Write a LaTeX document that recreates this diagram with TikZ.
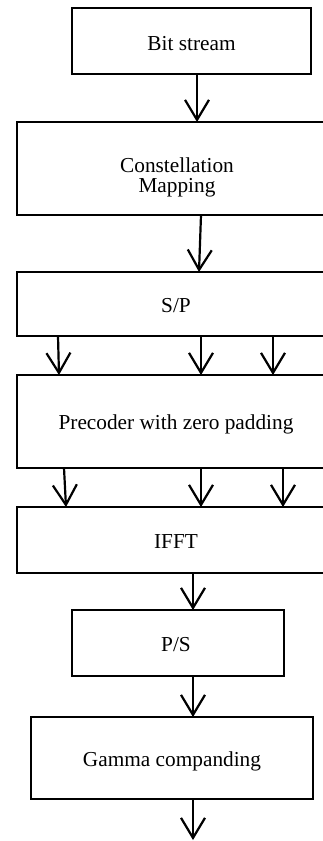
\documentclass[tikz,border=0pt]{standalone}
\usepackage{fontspec}
\setmainfont{Liberation Serif}
\usetikzlibrary{arrows.meta}
\tikzset{
  box/.style={draw=black, line width=1.2pt, inner sep=0pt, outer sep=0pt},
  lbl/.style={font=\fontsize{21.3}{20}\selectfont, inner sep=0pt, anchor=base, align=center},
  arr/.style={line width=2.2pt, -{Straight Barb[length=20pt, width=24pt]}}
}
\begin{document}
\begin{tikzpicture}[x=1pt, y=-1pt]
\useasboundingbox (0,0) rectangle (323,841);
\clip (0,0) rectangle (323,841);
\fill[white] (0,0) rectangle (323,841);
% boxes
\node[box, minimum width=239pt, minimum height=66pt] (bit) at (191.5,41) {};
\node[box, minimum width=318pt, minimum height=93pt] (con) at (176,168.5) {};
\node[box, minimum width=318pt, minimum height=64pt] (sp) at (176,304) {};
\node[box, minimum width=318pt, minimum height=93pt] (pre) at (176,421.5) {};
\node[box, minimum width=318pt, minimum height=66pt] (ifft) at (176,540) {};
\node[box, minimum width=212pt, minimum height=66pt] (ps) at (178,643) {};
\node[box, minimum width=282pt, minimum height=82pt] (gam) at (172,758) {};
% texts
\node[lbl] (tbit) at (191.5,50) {Bit stream};
\node[lbl] (tcon) at (177,192.7) {Constellation\\Mapping};
\node[lbl] (tsp) at (176,312.7) {S/P};
\node[lbl] (tpre) at (176,429.5) {Precoder with zero padding};
\node[lbl] (tifft) at (176,548.5) {IFFT};
\node[lbl] (tps) at (176,651.7) {P/S};
\node[lbl] (tgam) at (172,766) {Gamma companding};
% connectors
\coordinate (out) at (193,840);
\draw[arr] (bit.south -| 197,0) -- (con.north -| 197,0);
\draw[arr] (con.south -| 201,0) -- (sp.north -| 199,0);
\draw[arr] (sp.south -| 58,0) -- (pre.north -| 59,0);
\draw[arr] (sp.south -| 201,0) -- (pre.north -| 201,0);
\draw[arr] (sp.south -| 273,0) -- (pre.north -| 273,0);
\draw[arr] (pre.south -| 64,0) -- (ifft.north -| 66,0);
\draw[arr] (pre.south -| 201,0) -- (ifft.north -| 201,0);
\draw[arr] (pre.south -| 283,0) -- (ifft.north -| 283,0);
\draw[arr] (ifft.south -| 193,0) -- (ps.north -| 193,0);
\draw[arr] (ps.south -| 193,0) -- (gam.north -| 193,0);
\draw[arr] (gam.south -| 193,0) -- (out);
\end{tikzpicture}
\end{document}
